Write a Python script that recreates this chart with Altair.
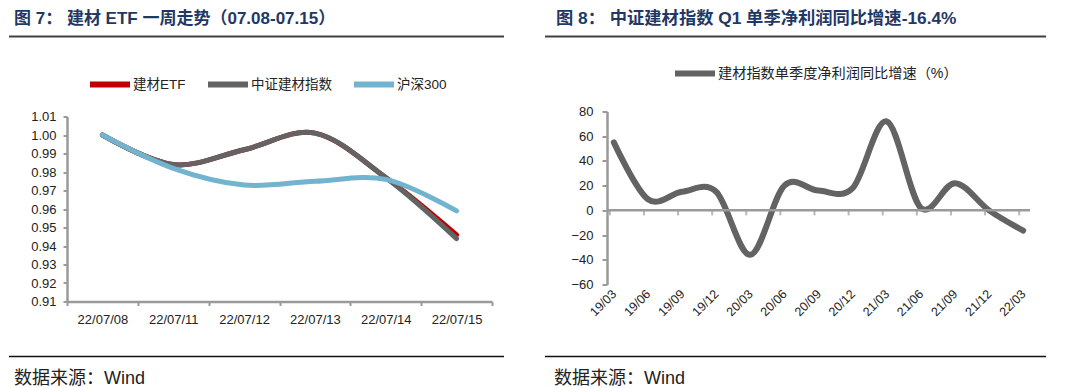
import altair as alt
import pandas as pd

# ---------------- data: panel 1 ----------------
dates = ["22/07/08", "22/07/11", "22/07/12", "22/07/13", "22/07/14", "22/07/15"]
etf = [1.000, 0.984, 0.992, 1.001, 0.977, 0.946]
csi_bm = [1.000, 0.984, 0.992, 1.001, 0.977, 0.944]
hs300 = [1.000, 0.982, 0.973, 0.975, 0.976, 0.959]
series_names = ["建材ETF", "中证建材指数", "沪深300"]
series_colors = ["#c00000", "#636363", "#72b4d0"]
y1_ticks = [0.91, 0.92, 0.93, 0.94, 0.95, 0.96, 0.97, 0.98, 0.99, 1.00, 1.01]

# ---------------- data: panel 2 ----------------
quarters = ["19/03", "19/06", "19/09", "19/12", "20/03", "20/06", "20/09",
            "20/12", "21/03", "21/06", "21/09", "21/12", "22/03"]
growth = [55, 9, 15, 15, -36, 20, 16, 18, 72, 2, 22, 0, -16.4]
growth_name = "建材指数单季度净利润同比增速（%）"
y2_ticks = [-60, -40, -20, 0, 20, 40, 60, 80]

title_left = "图 7： 建材 ETF 一周走势（07.08-07.15）"
title_right = "图 8： 中证建材指数 Q1 单季净利润同比增速-16.4%"
source_text = "数据来源：Wind"

FONT = "Liberation Sans, Arial, Noto Sans CJK SC"
AXIS_GRAY = "#9a9a9a"
TITLE_COLOR = "#1f3864"

# ---------------- helpers ----------------
def text_layer(txt, x, y, size, color, weight="normal"):
    return (alt.Chart(pd.DataFrame({"t": [txt]}))
            .mark_text(align="left", baseline="middle", font=FONT, fontSize=size,
                       fontWeight=weight, color=color)
            .encode(text="t:N", x=alt.value(x), y=alt.value(y)))

def hrule(x0, x1, y, width, color):
    return (alt.Chart(pd.DataFrame({"r": [0]}))
            .mark_rule(color=color, strokeWidth=width)
            .encode(x=alt.value(x0), x2=alt.value(x1), y=alt.value(y)))

# ---------------- panel 1 ----------------
df_left = pd.DataFrame({
    "date": dates * 3,
    "series": [series_names[0]] * 6 + [series_names[1]] * 6 + [series_names[2]] * 6,
    "value": etf + csi_bm + hs300,
})

xL = alt.X("date:O", sort=dates,
           scale=alt.Scale(type="band", paddingInner=0, paddingOuter=0),
           bandPosition=0.5,
           axis=alt.Axis(title=None, tickBand="extent", domainColor=AXIS_GRAY,
                         domainWidth=2.5, tickColor=AXIS_GRAY, tickWidth=2,
                         tickSize=4, labelPadding=8, labelAngle=0,
                         labelFont=FONT, labelFontSize=13, labelColor="#222"))
yL = alt.Y("value:Q", scale=alt.Scale(domain=[0.91, 1.01], nice=False, zero=False),
           axis=alt.Axis(title=None, values=y1_ticks, format=".2f",
                         domainColor=AXIS_GRAY, domainWidth=2.5,
                         tickColor=AXIS_GRAY, tickWidth=2, tickSize=4,
                         labelPadding=7, labelFont=FONT, labelFontSize=13,
                         labelColor="#222", grid=False, labelOverlap=False))
colL = alt.Color("series:N",
                 scale=alt.Scale(domain=series_names, range=series_colors),
                 legend=alt.Legend(title=None, orient="none", direction="horizontal",
                                   legendX=20, legendY=-55, symbolType="stroke",
                                   symbolSize=1600, symbolStrokeWidth=6,
                                   labelOffset=0, columnPadding=10, padding=0,
                                   labelFont=FONT, labelFontSize=13.5,
                                   labelColor="#222", labelLimit=0))

def left_line(name):
    return (alt.Chart(df_left)
            .transform_filter(alt.datum.series == name)
            .mark_line(interpolate="cardinal", tension=0, strokeWidth=5,
                       strokeCap="round", strokeJoin="round")
            .encode(x=xL, y=yL, color=colL))

left = alt.layer(
    left_line(series_names[0]),
    left_line(series_names[1]),
    left_line(series_names[2]),
    text_layer(title_left, -53, -98, 17, TITLE_COLOR, "bold"),
    hrule(-58, 437, -80, 2, "#404040"),
    hrule(-58, 437, 240, 1.5, "#111"),
    text_layer(source_text, -53, 262, 18, "#222"),
).properties(width=425, height=185)

# ---------------- panel 2 ----------------
df_right = pd.DataFrame({"q": quarters, "v": growth, "name": [growth_name] * len(quarters)})
df_zero = pd.DataFrame({"q": quarters, "v": [0] * len(quarters)})

H_R = 168
yscale_R = alt.Scale(domain=[-60, 80], nice=False, zero=False, range=[H_R, -5])

xR = alt.X("q:O", sort=quarters, scale=alt.Scale(type="point", padding=0.2),
           axis=alt.Axis(title=None, domain=False, ticks=False, labelAngle=-45,
                         labelAlign="right", labelBaseline="middle", labelPadding=7,
                         labelFont=FONT, labelFontSize=12.5, labelColor="#222"))
yR = alt.Y("v:Q", scale=yscale_R,
           axis=alt.Axis(title=None, values=y2_ticks, domainColor=AXIS_GRAY,
                         domainWidth=2.5, tickColor=AXIS_GRAY, tickWidth=2,
                         tickSize=5, labelPadding=9, labelFont=FONT,
                         labelFontSize=13, labelColor="#222", grid=False,
                         labelOverlap=False))

zero_ticks = (alt.Chart(df_zero)
              .mark_tick(orient="vertical", size=5, thickness=2, color=AXIS_GRAY,
                         yOffset=2.5, xOffset=-4)
              .encode(x=xR, y=yR))
zero_rule = (alt.Chart(pd.DataFrame({"v": [0]}))
             .mark_rule(color=AXIS_GRAY, strokeWidth=2.5)
             .encode(y=yR))
right_line = (alt.Chart(df_right)
              .mark_line(interpolate="cardinal", tension=0, strokeWidth=6,
                         strokeCap="round", strokeJoin="round")
              .encode(x=xR, y=yR,
                      color=alt.Color("name:N",
                                      scale=alt.Scale(domain=[growth_name], range=["#636363"]),
                                      legend=alt.Legend(title=None, orient="none",
                                                        legendX=65, legendY=-66,
                                                        symbolType="stroke",
                                                        symbolSize=1600,
                                                        symbolStrokeWidth=6,
                                                        labelOffset=0, padding=0,
                                                        labelFont=FONT,
                                                        labelFontSize=14.2,
                                                        labelColor="#222",
                                                        labelLimit=0))))

right = alt.layer(
    right_line,
    zero_rule,
    zero_ticks,
    text_layer(title_right, -51, -98, 17.3, TITLE_COLOR, "bold"),
    hrule(-62, 439, -80, 2, "#404040"),
    hrule(-62, 439, 240, 1.5, "#111"),
    text_layer(source_text, -53, 262, 18, "#222"),
).properties(width=423, height=H_R)

chart = (alt.hconcat(left, right, spacing=39)
         .resolve_scale(color="independent")
         .properties(padding={"left": 0, "top": 1.5, "right": 0, "bottom": 0})
         .configure_view(strokeWidth=0))

chart.save("out.html", embed_options={"renderer": "svg", "actions": False})
